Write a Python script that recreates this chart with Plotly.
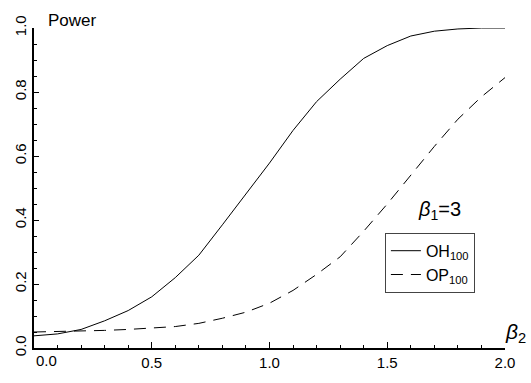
import plotly.graph_objects as go

beta2 = [0.0, 0.1, 0.2, 0.3, 0.4, 0.5, 0.6, 0.7, 0.8, 0.9, 1.0,
         1.1, 1.2, 1.3, 1.4, 1.5, 1.6, 1.7, 1.8, 1.9, 2.0]
oh100 = [0.038, 0.044, 0.058, 0.085, 0.117, 0.160, 0.220, 0.290, 0.385, 0.480, 0.578,
         0.680, 0.770, 0.840, 0.905, 0.945, 0.975, 0.990, 0.997, 1.000, 1.000]
op100 = [0.050, 0.051, 0.053, 0.055, 0.058, 0.062, 0.067, 0.077, 0.093, 0.112, 0.140,
         0.180, 0.230, 0.285, 0.365, 0.450, 0.540, 0.630, 0.715, 0.785, 0.845]

xticks = [0.5, 1.0, 1.5, 2.0]
xticktext = ["0.5", "1.0", "1.5", "2.0"]
yticks = [0.0, 0.2, 0.4, 0.6, 0.8, 1.0]
yticktext = ["0.0", "0.2", "0.4", "0.6", "0.8", "1.0"]

FONT = "Liberation Sans"

fig = go.Figure()
fig.add_trace(go.Scatter(x=beta2, y=oh100, mode="lines", name="OH<sub>100</sub>",
                         line=dict(color="black", width=1)))
fig.add_trace(go.Scatter(x=beta2, y=op100, mode="lines", name="OP<sub>100</sub>",
                         line=dict(color="black", width=1, dash="12px,8px")))

fig.update_layout(
    width=531, height=383,
    margin=dict(l=32, r=26, t=28, b=23),
    paper_bgcolor="white", plot_bgcolor="white",
    font=dict(family=FONT, size=15, color="black"),
    showlegend=True,
    legend=dict(x=0.745, y=0.36, xanchor="left", yanchor="top",
                bordercolor="#444", borderwidth=1, bgcolor="white",
                font=dict(family=FONT, size=16), tracegroupgap=0,
                itemwidth=30),
    xaxis=dict(range=[0, 2], tickmode="array", tickvals=xticks, ticktext=xticktext,
               showgrid=False, zeroline=False, showline=True, linecolor="black",
               linewidth=2, ticks="inside", ticklen=6, tickwidth=1, tickcolor="black",
               minor=dict(dtick=0.1, ticks="inside", ticklen=3, tickwidth=1,
                          tickcolor="black", showgrid=False),
               tickfont=dict(size=15)),
    yaxis=dict(range=[0, 1], tickmode="array", tickvals=yticks, ticktext=yticktext,
               showgrid=False, zeroline=False, showline=True, linecolor="black",
               linewidth=2, ticks="inside", ticklen=5, tickwidth=1, tickcolor="black",
               tickangle=-90,
               minor=dict(dtick=0.05, ticks="inside", ticklen=3, tickwidth=1,
                          tickcolor="black", showgrid=False),
               tickfont=dict(size=15)),
)

fig.add_annotation(x=0, y=0, xref="x", yref="paper", text="0.0", showarrow=False,
                   xanchor="left", yanchor="top", yshift=-2,
                   font=dict(family=FONT, size=15))
fig.add_annotation(x=0.05, y=1.0, xref="x", yref="paper", text="Power", showarrow=False,
                   xanchor="left", yanchor="bottom", yshift=-4,
                   font=dict(family=FONT, size=17))
fig.add_annotation(x=2.0, y=0.0, xref="x", yref="paper",
                   text="<i>β</i><sub>2</sub>", showarrow=False,
                   xanchor="left", yanchor="bottom", xshift=-2,
                   font=dict(family=FONT, size=21))
fig.add_annotation(x=1.72, y=0.43, xref="x", yref="y",
                   text="<i>β</i><sub>1</sub>=3", showarrow=False,
                   font=dict(family=FONT, size=20))

fig.write_html("out.html")
